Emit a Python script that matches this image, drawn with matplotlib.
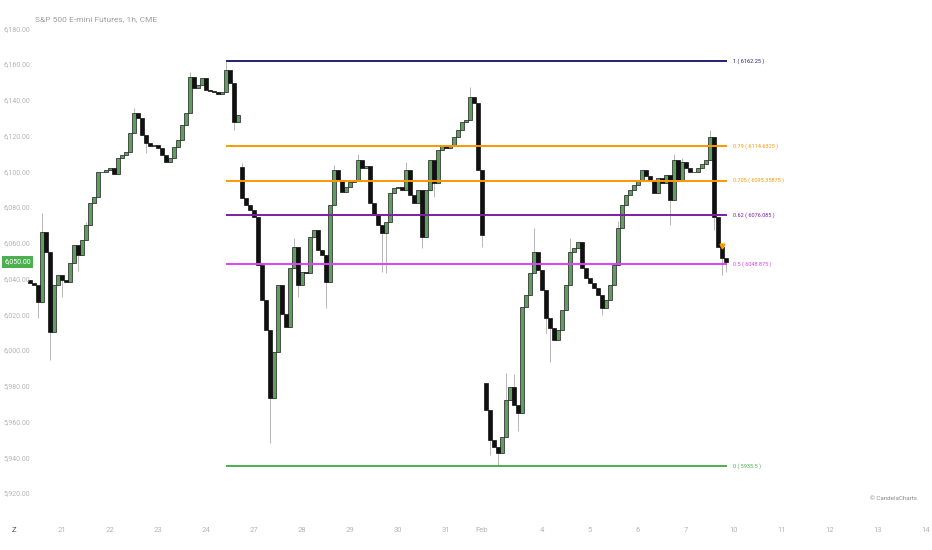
import numpy as np
import matplotlib
matplotlib.use("Agg")
import matplotlib.pyplot as plt

plt.rcParams['font.family'] = ['Roboto', 'DejaVu Sans']

# hourly-ish closes, S&P 500 E-mini, Jan 20 -> Feb 7
closes = [
    6038, 6037, 6027.5, 6066.5, 6055.5, 6010.75, 6037, 6042.5, 6039.75, 6038.5,
    6049.25, 6059.25, 6053.75, 6062, 6070.5, 6082.75, 6086.25, 6100.25, 6100, 6101.25,
    6102.5, 6099, 6108, 6109.75, 6111.5, 6122, 6133.25, 6130.5, 6121, 6116.5,
    6114.75, 6115.25, 6113.5, 6109.75, 6105.75, 6108, 6114.25, 6118, 6126.5, 6133.25,
    6153.25, 6147.25, 6148.75, 6152.75, 6146, 6145.5, 6145, 6143.75, 6145, 6157.25,
    6150, 6128.25, 6132, 6085.5, 6081.75, 6079, 6075, 6048.25, 6028.5, 6011.75,
    5973.75, 5999.5, 6037, 6020.75, 6013.5, 6046.5, 6058.25, 6037, 6044.25, 6043.75,
    6063.75, 6067.75, 6056.5, 6053.75, 6038.5, 6081.75, 6101.25, 6095.75, 6089, 6091.75,
    6094.5, 6095.75, 6107, 6102.5, 6103.5, 6082.75, 6076, 6070.5, 6066, 6072.25,
    6088.5, 6091.25, 6091.75, 6090, 6101.25, 6087.25, 6082.75, 6090, 6063.75, 6090,
    6107, 6094, 6112.5, 6114.75, 6113.5, 6115.25, 6119.75, 6123.75, 6128.25, 6129.25,
    6142, 6138.75, 6101.25, 6065, 5967, 5950.25, 5946.25, 5943, 5951.75, 5972.5,
    5980, 5969.75, 5965.5, 6024.5, 6031.5, 6043.75, 6055.5, 6045.25, 6034.25, 6018.5,
    6013, 6006.25, 6011.75, 6023, 6037, 6055.5, 6057.75, 6061, 6046.5, 6041,
    6038, 6035.25, 6031.5, 6024, 6028.5, 6037, 6048.25, 6068.75, 6081.75, 6087.25,
    6090, 6092.75, 6095.75, 6101.25, 6097.75, 6095.75, 6088.5, 6096.75, 6094, 6098.5,
    6084.5, 6106.75, 6095.75, 6105.75, 6102.5, 6100.25, 6100.25, 6102.5, 6104.75, 6106.75,
    6119.75, 6075, 6058.25, 6052, 6050,
]

# session opens (gaps)
session_idx = [0, 53, 114]
session_open = [6040, 6103, 5982]

# notable wicks
high_idx = [3, 14, 26, 40, 49, 53, 66, 76, 82, 94, 110, 119, 121, 126, 135, 147, 161, 163, 170]
high_val = [6077, 6072, 6136, 6156, 6162.25, 6105, 6063, 6104, 6110, 6106, 6147.75, 5988,
            5987, 6069, 6063, 6073, 6110, 6108, 6123.5]
low_idx = [2, 5, 8, 12, 29, 51, 60, 61, 67, 74, 88, 89, 98, 101, 113, 115, 117, 122, 129,
           130, 143, 160, 171, 173, 174]
low_val = [6018.5, 5995, 6030, 6045, 6111, 6123.5, 5948.5, 5985, 6030, 6024, 6044, 6043.5,
           6057.5, 6086, 6058, 5942, 5935.5, 5955, 6010, 5994, 6020, 6070.5, 6068, 6042.5, 6044]

# fib retracement
fib_hi = 6162.25
fib_lo = 5935.5
fib_ratios = [1, 0.79, 0.705, 0.62, 0.5, 0]
fib_colors = ['#24206e', '#ff9800', '#ff9800', '#7b1fa2', '#e040fb', '#4caf50']

price_ticks = [6180, 6160, 6140, 6120, 6100, 6080, 6060, 6040, 6020, 6000,
               5980, 5960, 5940, 5920]
day_labels = ['Z', '21', '22', '23', '24', '27', '28', '29', '30', '31', 'Feb',
              '4', '5', '6', '7', '10', '11', '12', '13', '14']
day_pos = [-4, 8, 20, 32, 44, 56, 68, 80, 92, 104, 113, 128, 140, 152, 164, 176,
           188, 200, 212, 224]

signal_idx = 173
signal_price = 6059

n = len(closes)
x = np.arange(n)
opens = []
for i in range(n):
    if i in session_idx:
        opens.append(session_open[session_idx.index(i)])
    else:
        opens.append(closes[i - 1])
opens = np.array(opens, dtype=float)
closes_a = np.array(closes, dtype=float)
highs = np.maximum(opens, closes_a)
lows = np.minimum(opens, closes_a)
for i, v in zip(high_idx, high_val):
    highs[i] = max(highs[i], v)
for i, v in zip(low_idx, low_val):
    lows[i] = min(lows[i], v)

fig = plt.figure(figsize=(9.32, 5.5), dpi=100)
ax = fig.add_axes([0, 0, 1, 1])
ax.set_xlim(-7.5, 225.5)
ax.set_ylim(5888.7, 6196.4)
ax.axis('off')

# wicks
ax.vlines(x, lows, highs, color='#b8b8b8', lw=0.7, zorder=2)

# bodies
up = closes_a >= opens
body_h = closes_a - opens
ax.bar(x[up], body_h[up], bottom=opens[up], width=0.8, color='#5e9e5e',
       edgecolor='#1c1c1c', linewidth=0.5, zorder=3)
ax.bar(x[~up], body_h[~up], bottom=opens[~up], width=0.8, color='#111111',
       edgecolor='#111111', linewidth=0.5, zorder=3)

# fib lines
for r, col in zip(fib_ratios, fib_colors):
    p = fib_lo + r * (fib_hi - fib_lo)
    ax.hlines(p, 49, 174.3, color=col, lw=1.4, zorder=4)
    ptxt = f"{p:.5f}".rstrip('0').rstrip('.')
    ax.text(175.7, p, f"{r} ( {ptxt} )", color=col, fontsize=4, va='center',
            ha='left', zorder=5)

# signal marker
ax.plot(signal_idx, signal_price, marker='v', color='#ff9800', ms=3.5, zorder=5)

# price scale
for v in price_ticks:
    ax.text(-6.5, v, f"{v:,.2f}", fontsize=5, color='#b5b5b5', va='center', ha='left')

ax.text(-6.4, closes[-1], f"{closes[-1]:,.2f}", fontsize=5, color='white', va='center',
        ha='left', zorder=6,
        bbox=dict(boxstyle='square,pad=0.35', fc='#4caf50', ec='none'))

# time scale
xt = ax.get_xaxis_transform()
for lab, pos in zip(day_labels, day_pos):
    col = '#555555' if lab == 'Z' else '#b5b5b5'
    ax.text(pos, 0.036, lab, transform=xt, fontsize=5.5, color=col, ha='center', va='center')

fig.text(35 / 932, 1 - 19 / 550, 'S&P 500 E-mini Futures, 1h, CME', fontsize=6,
         color='#9e9e9e', ha='left', va='center')
fig.text(893 / 932, 1 - 499 / 550, '© CandelaCharts', fontsize=4.5, color='#8a8a8a',
         ha='center', va='center')

fig.savefig('out.png', dpi=100, facecolor='white')
